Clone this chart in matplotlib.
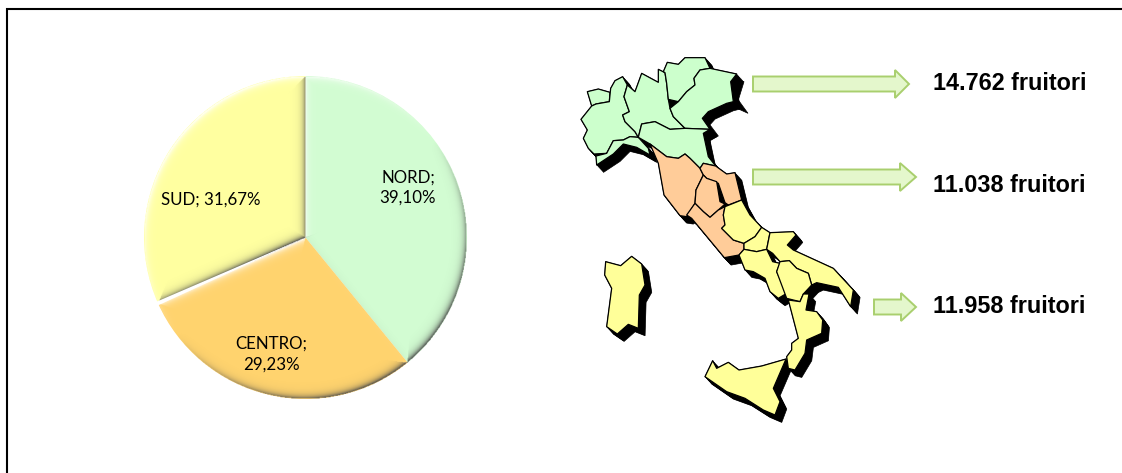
import numpy as np
import matplotlib
matplotlib.use("Agg")
import matplotlib.pyplot as plt
from matplotlib.patches import Polygon, Wedge

# pie values
areas = ["NORD", "CENTRO", "SUD"]
shares = [39.10, 29.23, 31.67]
pie_colors = ["#D2FCD2", "#FFD36E", "#FFFFA0"]
pie_labels = ["NORD;\n39,10%", "CENTRO;\n29,23%", "SUD; 31,67%"]
label_xy = [(408, 187.5), (271, 354), (211, 200)]

# right hand labels
users = ["14.762 fruitori", "11.038 fruitori", "11.958 fruitori"]
user_xy = [(933, 83), (933, 185), (933, 306)]

# arrows: x start, x end of body, tip, y
arrows = [(753, 895, 909, 84), (753, 900, 916, 177), (874, 901, 916, 307)]

north = [
    [(52,125),(85,117),(120,127),(118,155),(78,162),(65,168)],
    [(65,168),(78,162),(118,155),(122,115),(135,92),(158,80),(172,105),(162,140),(178,185),(158,195),(165,215),(195,245),(205,262),(180,260),(160,270),(130,272),(110,310),(72,312),(55,295),(40,265),(52,240),(33,208)],
    [(205,262),(235,295),(240,315),(200,292),(160,282),(130,312),(80,345),(78,318),(110,310),(130,272),(160,270),(180,260)],
    [(172,105),(195,125),(215,70),(265,97),(265,58),(285,68),(290,100),(295,148),(300,175),(310,200),(345,235),(300,238),(255,215),(215,222),(205,262),(195,245),(165,215),(158,195),(178,185),(162,140)],
    [(285,68),(280,65),(292,37),(325,43),(345,23),(405,23),(420,55),(390,60),(372,85),(375,105),(350,125),(325,155),(295,148),(290,100)],
    [(420,55),(500,72),(482,95),(490,155),(470,160),(415,185),(397,205),(420,238),(345,235),(310,200),(300,175),(325,155),(350,125),(375,105),(372,85),(390,60)],
    [(215,222),(255,215),(300,238),(345,235),(420,238),(400,250),(415,320),(437,348),(400,340),(390,355),(360,325),(345,312),(325,325),(290,320),(240,282),(205,262)],
]
centre = [
    [(240,282),(290,320),(325,325),(345,312),(360,325),(390,355),(400,375),(378,420),(375,460),(350,500),(330,497),(282,435),(265,340)],
    [(390,355),(400,340),(437,348),(470,372),(495,368),(515,450),(475,465),(465,458),(445,400),(410,385),(400,375)],
    [(400,375),(410,385),(440,395),(450,455),(465,462),(445,480),(420,502),(400,485),(375,460),(378,420)],
]
# black spike east of Veneto, only in the shadow
veneto_shadow = [(482,90),(522,95),(505,150),(534,190),(490,170),(420,190),(405,205),(445,258),(420,270),(425,330),(437,348),(400,250)]
# these two use the second crop's offset
lazio = [(290,75),(315,40),(340,65),(360,82),(385,60),(405,50),(400,75),(405,105),(395,115),(430,150),(462,160),(462,178),(447,195),(403,203),(305,85)]
south = [
    [(455,30),(480,75),(515,112),(495,140),(462,160),(430,150),(395,115),(405,105),(400,75),(405,50)],
    [(515,112),(540,128),(530,178),(500,185),(462,178),(462,160),(495,140)],
    [(540,128),(610,125),(618,135),(592,165),(610,180),(730,235),(790,300),(782,350),(745,292),(680,278),(665,285),(655,250),(620,235),(598,212),(570,215),(548,190),(530,178)],
    [(462,178),(500,185),(530,178),(548,215),(570,220),(560,245),(590,310),(565,325),(540,305),(525,265),(490,245),(465,240),(447,195)],
    [(570,215),(598,212),(620,235),(655,250),(665,285),(640,312),(630,335),(590,325),(560,245)],
    [(595,330),(630,335),(640,312),(657,312),(648,360),(680,365),(698,390),(695,430),(650,450),(645,490),(615,540),(595,535),(590,500),(605,480),(605,460),(625,445)],
    [(368,512),(380,535),(415,517),(447,540),(515,528),(588,507),(550,595),(570,635),(555,675),(520,660),(465,625),(410,605),(345,560)],
    [(47,215),(92,227),(125,199),(155,222),(165,285),(148,315),(145,415),(115,403),(82,432),(50,410),(65,295),(44,255)],
]


def crop1(pts):
    return [(570 + x / 3, 50 + y / 3) for x, y in pts]


def crop2(pts):
    return [(590 + x / 3, 190 + y / 3) for x, y in pts]


regions = [(crop1(p), "#CCFFCC") for p in north]
regions += [(crop1(p), "#FFCC99") for p in centre]
regions += [(crop2(lazio), "#FFCC99")]
regions += [(crop2(p), "#FFFF99") for p in south]

W, H = 1122, 473
cx, cy, R = 305.5, 237.5, 161.5

fig = plt.figure(figsize=(W / 100, H / 100), dpi=100)

# pie
ax = fig.add_axes([(cx - R) / W, 1 - (cy + R) / H, 2 * R / W, 2 * R / H])
ax.pie(shares, colors=pie_colors, startangle=90, counterclock=False, radius=1)

# bevel on the slices, light coming from the top left
n = 500
xs = np.linspace(-1, 1, n) * R
yy, xx = np.meshgrid(xs, xs, indexing="ij")
rr = np.hypot(xx, yy) + 1e-6
best = R - rr
nx, ny = xx / rr, yy / rr
for a in np.cumsum(shares) * 3.6:
    ux, uy = np.sin(np.radians(a)), -np.cos(np.radians(a))
    along = xx * ux + yy * uy
    px, py = xx - along * ux, yy - along * uy
    d = np.hypot(px, py) + 1e-6
    d = np.where(along > 0, d, 1e6)
    near = d < best
    best = np.where(near, d, best)
    nx = np.where(near, -px / d, nx)
    ny = np.where(near, -py / d, ny)
shade = -(nx * 0.6 + ny * 0.8)
strength = np.exp(-np.clip(best, 0, None) / 3.0)
rgba = np.zeros((n, n, 4))
rgba[..., :3] = np.where(shade[..., None] > 0, 1.0, 0.3)
rgba[..., 3] = np.clip(np.abs(shade) * strength * 1.1, 0, 1)
rgba[rr > R, 3] = 0
ax.imshow(rgba, extent=(-1, 1, -1, 1), origin="upper", zorder=5, interpolation="bilinear")

# thin white gap between SUD and CENTRO, wider towards the rim
gap_angle = 90 - np.cumsum(shares)[1] * 3.6
ax.add_patch(Wedge((0, 0), 1.01, gap_angle - 0.7, gap_angle + 0.7, facecolor="white", edgecolor="none", zorder=6))

ax.set_xlim(-1, 1)
ax.set_ylim(-1, 1)
ax.set_aspect("equal")
ax.axis("off")

# everything else drawn in pixel coordinates on top
top = fig.add_axes([0, 0, 1, 1], zorder=3)
top.set_xlim(0, W)
top.set_ylim(H, 0)
top.axis("off")
top.patch.set_alpha(0)

# frame: only top and left edges are in the picture
top.plot([7, 7, W], [H, 9, 9], color="black", linewidth=1.5, solid_joinstyle="miter")

for label, (x, y) in zip(pie_labels, label_xy):
    top.text(x, y, label, ha="center", va="center", fontsize=12.2, family="Lato",
             color="black", linespacing=1.35)

# map: extruded black shadow first, then the regions
for k in np.arange(0, 7.5, 0.75):
    for pts, col in regions:
        moved = [(x + k, y + k * 1.1) for x, y in pts]
        top.add_patch(Polygon(moved, closed=True, facecolor="black", edgecolor="black", linewidth=0.5))
top.add_patch(Polygon(crop1(veneto_shadow), closed=True, facecolor="black", edgecolor="black", linewidth=0.5))
for pts, col in regions:
    top.add_patch(Polygon(pts, closed=True, facecolor=col, edgecolor="black", linewidth=0.9, joinstyle="round"))

# arrows
for x0, x1, tip, y in arrows:
    outline = [(x0, y - 7.5), (x1, y - 7.5), (x1, y - 14), (tip, y), (x1, y + 14), (x1, y + 7.5), (x0, y + 7.5)]
    top.add_patch(Polygon(outline, closed=True, facecolor="#E4F7CC", edgecolor="#A9CF6E", linewidth=1.4))

for txt, (x, y) in zip(users, user_xy):
    top.text(x, y, txt, ha="left", va="center", fontsize=16.8, fontweight="bold",
             family="Liberation Sans", color="black")

fig.savefig("out.png", dpi=100)
